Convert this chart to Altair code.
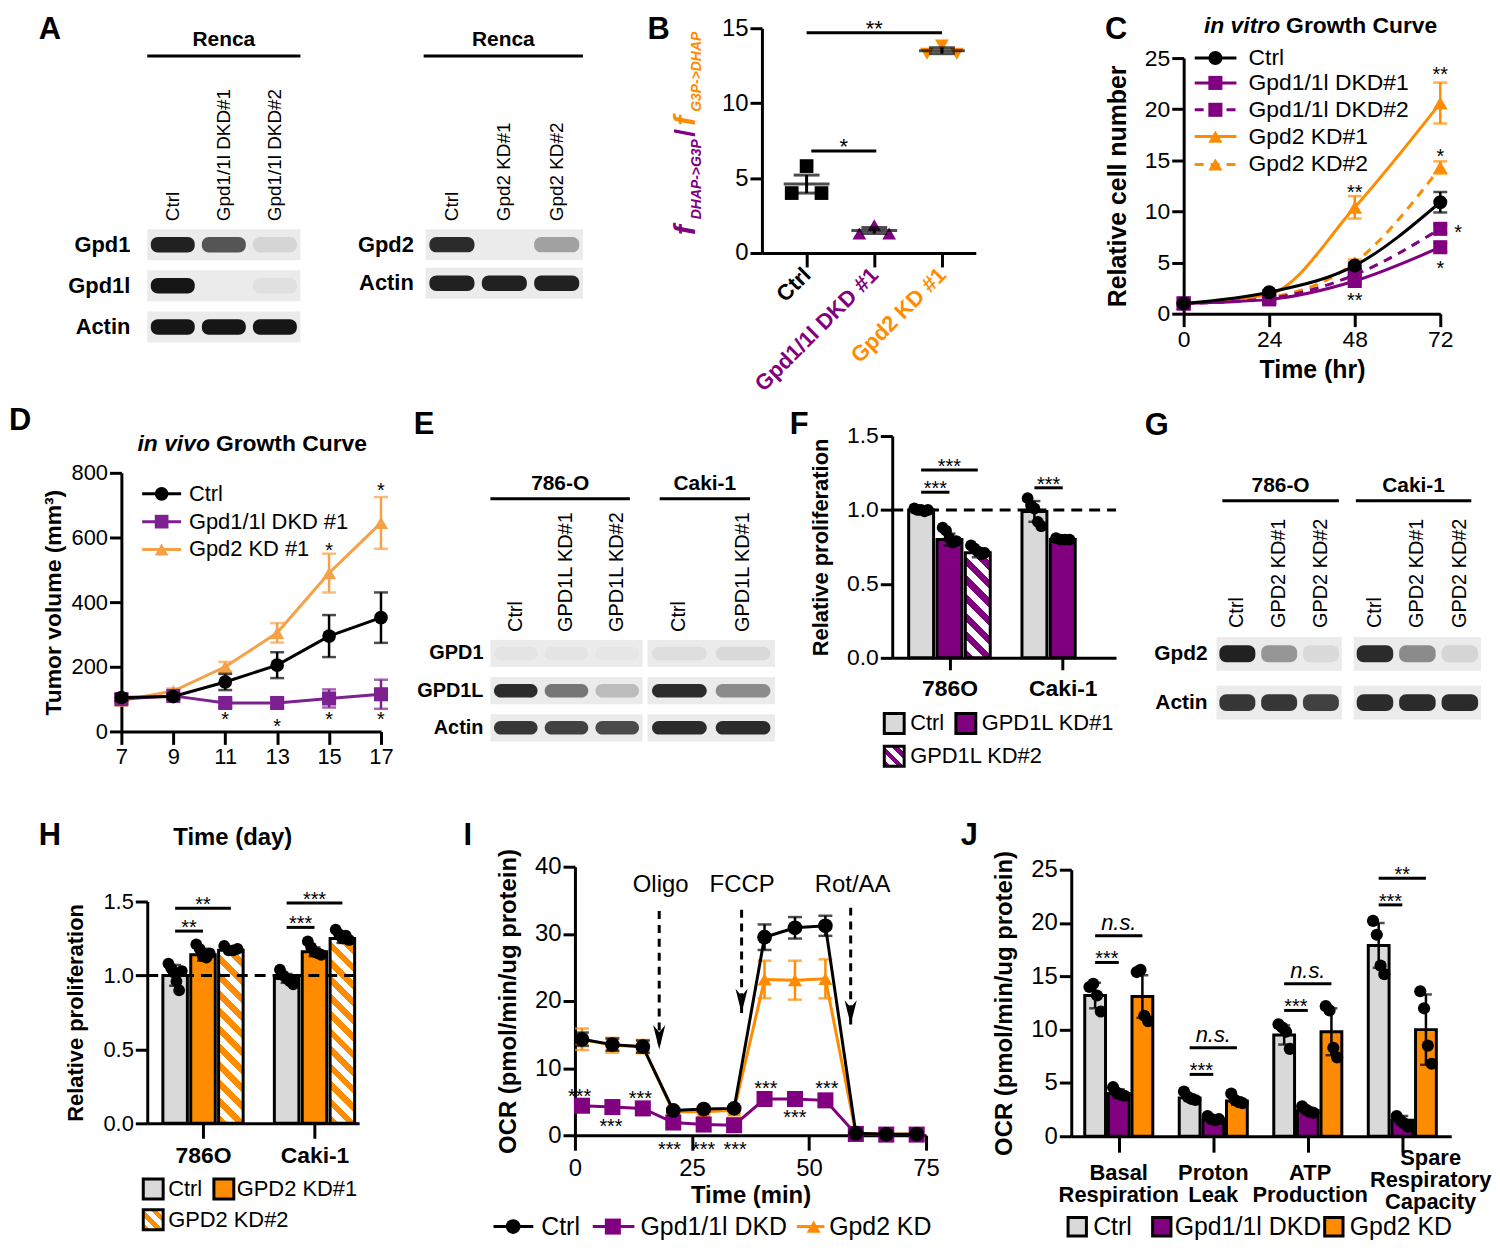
import altair as alt
import numpy as np
import pandas as pd

FONT = "Liberation Sans"
BLK = "#000000"
PUR = "#800080"
ORG = "#FF8C00"
GRY = "#d9d9d9"
PUR_D = "#7d2090"
ORG_D = "#f6a047"
BLOT_BG = "#ebebeb"
BAND = "#161616"
ONE = pd.DataFrame({"k": [0]})

# ============================ DATA ============================
# A: Renca western blots (relative band intensity 0..1)
A1_lanes = ["Ctrl", "Gpd1/1l DKD#1", "Gpd1/1l DKD#2"]
A1_rows = ["Gpd1", "Gpd1l", "Actin"]
A1_gpd1 = [0.95, 0.70, 0.10]
A1_gpd1l = [1.00, 0.00, 0.05]
A1_actin = [1.00, 1.00, 1.00]
A2_lanes = ["Ctrl", "Gpd2 KD#1", "Gpd2 KD#2"]
A2_rows = ["Gpd2", "Actin"]
A2_gpd2 = [0.90, 0.00, 0.35]
A2_actin = [0.95, 0.95, 0.95]

# B
B_groups = ["Ctrl", "Gpd1/1l DKD #1", "Gpd2 KD #1"]
B_ctrl = [5.8, 4.0, 4.0]
B_dkd = [1.85, 1.3, 1.3]
B_gpd2 = [13.85, 13.3, 13.3]
B_mean = [4.6, 1.5, 13.5]
B_sem = [0.6, 0.2, 0.2]

# C: in vitro growth curve
C_time = [0, 24, 48, 72]
C_labels = ["Ctrl", "Gpd1/1l DKD#1", "Gpd1/1l DKD#2", "Gpd2 KD#1", "Gpd2 KD#2"]
C_ctrl = [1.0, 2.1, 4.7, 10.9]
C_ctrl_err = [0.1, 0.2, 0.3, 1.0]
C_dkd1 = [1.0, 1.4, 3.2, 6.5]
C_dkd1_err = [0.1, 0.15, 0.3, 0.4]
C_dkd2 = [1.0, 1.5, 3.8, 8.3]
C_dkd2_err = [0.1, 0.15, 0.3, 0.4]
C_g21 = [1.0, 1.9, 10.4, 20.6]
C_g21_err = [0.1, 0.2, 1.1, 2.0]
C_g22 = [1.0, 1.6, 5.0, 14.3]
C_g22_err = [0.1, 0.15, 0.3, 0.6]
C_star_x = [72, 72, 48, 48, 77.0, 72]
C_star_y = [23.8, 15.8, 12.3, 1.7, 8.4, 4.9]
C_star_t = ["**", "*", "**", "**", "*", "*"]

# D: in vivo growth curve
D_day = [7, 9, 11, 13, 15, 17]
D_labels = ["Ctrl", "Gpd1/1l DKD #1", "Gpd2 KD #1"]
D_ctrl = [105, 108, 153, 205, 295, 352]
D_ctrl_err = [10, 8, 25, 40, 65, 78]
D_dkd = [100, 110, 88, 88, 102, 115]
D_dkd_err = [8, 8, 10, 15, 28, 45]
D_gpd2 = [95, 125, 200, 305, 490, 645]
D_gpd2_err = [8, 8, 15, 30, 60, 80]
D_star_x = [11, 13, 15, 17, 15, 17]
D_star_y = [52, 30, 50, 50, 575, 760]

# E: 786-O / Caki-1 blots
E1_lanes = ["Ctrl", "GPD1L KD#1", "GPD1L KD#2"]
E_rows = ["GPD1", "GPD1L", "Actin"]
E1_gpd1 = [0.03, 0.03, 0.02]
E1_gpd1l = [0.90, 0.55, 0.22]
E1_actin = [0.85, 0.80, 0.75]
E2_lanes = ["Ctrl", "GPD1L KD#1"]
E2_gpd1 = [0.06, 0.08]
E2_gpd1l = [0.90, 0.45]
E2_actin = [0.90, 0.90]

# F: relative proliferation, GPD1L KD
F_lines = ["786O", "Caki-1"]
F_conds = ["Ctrl", "GPD1L KD#1", "GPD1L KD#2"]
F_786O_ctrl = [1.01, 1.00, 1.00, 0.99, 1.00]
F_786O_kd1 = [0.88, 0.86, 0.81, 0.78, 0.79]
F_786O_kd2 = [0.76, 0.74, 0.72, 0.70, 0.71]
F_caki_ctrl = [1.08, 1.03, 1.01, 0.92, 0.89]
F_caki_kd1 = [0.81, 0.80, 0.80, 0.80]
F_mean = [1.00, 0.80, 0.71, 0.99, 0.80]
F_sd = [0.01, 0.04, 0.03, 0.07, 0.01]
F_sig_a = [0, 0, 4]
F_sig_b = [1, 2, 5]
F_sig_y = [1.12, 1.27, 1.15]

# G: GPD2 blots
G_rows = ["Gpd2", "Actin"]
G1_lanes = ["Ctrl", "GPD2 KD#1", "GPD2 KD#2"]
G1_gpd2 = [0.95, 0.40, 0.08]
G1_actin = [0.85, 0.85, 0.80]
G2_lanes = ["Ctrl", "GPD2 KD#1", "GPD2 KD#2"]
G2_gpd2 = [0.90, 0.45, 0.10]
G2_actin = [0.90, 0.90, 0.90]

# H: relative proliferation, GPD2 KD
H_lines = ["786O", "Caki-1"]
H_conds = ["Ctrl", "GPD2 KD#1", "GPD2 KD#2"]
H_786O_ctrl = [1.08, 1.05, 1.02, 0.96, 0.90, 1.03]
H_786O_kd1 = [1.21, 1.18, 1.13, 1.12, 1.15]
H_786O_kd2 = [1.20, 1.17, 1.17, 1.18]
H_caki_ctrl = [1.04, 1.00, 0.98, 0.96, 0.94]
H_caki_kd1 = [1.23, 1.19, 1.16, 1.15, 1.14]
H_caki_kd2 = [1.31, 1.28, 1.25, 1.27, 1.24]
H_mean = [1.00, 1.14, 1.17, 0.98, 1.16, 1.25]
H_sd = [0.07, 0.04, 0.02, 0.03, 0.03, 0.03]
H_sig_a = [0, 0, 4, 4]
H_sig_b = [1, 2, 5, 6]
H_sig_y = [1.30, 1.455, 1.325, 1.49]
H_sig_t = ["**", "**", "***", "***"]

# I: Seahorse OCR trace
I_time = [1.5, 8, 14.5, 21, 27.5, 34, 40.5, 47, 53.5, 60, 66.5, 73]
I_labels = ["Ctrl", "Gpd1/1l DKD", "Gpd2 KD"]
I_ctrl = [14.3, 13.5, 13.2, 3.7, 3.9, 4.0, 29.5, 30.9, 31.2, 0.3, 0.15, 0.15]
I_ctrl_err = [1.0, 0.9, 0.9, 0.3, 0.3, 0.3, 1.9, 1.6, 1.5, 0.1, 0.1, 0.1]
I_dkd = [4.4, 4.2, 4.0, 1.9, 1.6, 1.5, 5.4, 5.4, 5.2, 0.2, 0.1, 0.1]
I_dkd_err = [0.3, 0.3, 0.3, 0.2, 0.2, 0.2, 0.3, 0.3, 0.3, 0.1, 0.1, 0.1]
I_gpd2 = [14.3, 13.4, 13.2, 3.5, 3.5, 3.7, 23.2, 23.1, 23.3, 0.3, 0.2, 0.2]
I_gpd2_err = [1.6, 1.1, 1.0, 0.4, 0.4, 0.4, 2.8, 2.9, 2.9, 0.1, 0.1, 0.1]
I_drug = ["Oligo", "FCCP", "Rot/AA"]
I_arrow_x = [18.0, 35.6, 58.9]
I_arrow_top = [33.4, 33.6, 33.9]
I_arrow_tip = [12.8, 18.2, 16.5]
I_drug_x = [18.3, 35.7, 59.3]
I_star_x = [1.0, 7.7, 14.0, 20.2, 27.5, 34.2, 40.8, 47.0, 53.8]
I_star_y = [6.4, 2.0, 6.1, -1.5, -1.5, -1.5, 7.7, 3.3, 7.7]

# J: OCR parameters
J_params = ["Basal Respiration", "Proton Leak", "ATP Production", "Spare Respiratory Capacity"]
J_conds = ["Ctrl", "Gpd1/1l DKD", "Gpd2 KD"]
J_mean = [13.2, 4.0, 13.1, 3.6, 1.6, 3.3, 9.5, 2.4, 9.8, 17.9, 1.5, 10.0]
J_sd = [1.2, 0.4, 2.0, 0.3, 0.15, 0.35, 0.9, 0.25, 2.2, 2.1, 0.4, 3.3]
J_pts = [
    [14.0, 14.3, 13.2, 11.7], [4.6, 4.1, 3.9, 3.8], [15.4, 15.6, 11.3, 10.8],
    [4.2, 3.7, 3.5, 3.4], [1.9, 1.6, 1.5, 1.6], [4.0, 3.4, 3.2, 3.1],
    [10.5, 10.2, 9.8, 8.2], [2.8, 2.5, 2.3, 2.2], [12.2, 11.8, 8.3, 7.4],
    [20.2, 18.9, 16.0, 15.2], [1.9, 1.5, 1.2, 0.9], [13.6, 12.0, 8.5, 6.8],
]
J_sig_a = [0, 0, 4, 4, 8, 8, 12, 12]
J_sig_b = [1, 2, 5, 6, 9, 10, 13, 14]
J_sig_y = [16.3, 18.8, 5.8, 8.3, 11.8, 14.3, 21.7, 24.2]
J_sig_t = ["***", "n.s.", "***", "n.s.", "***", "n.s.", "***", "**"]

# ============================ HELPERS ============================
LET_DY = 3    # keeps panel letters inside their frames


def G(X, Y, W, H, frame, c):
    # plot origin/size (page px), invisible layout frame, and per-row vertical fine-tuning c
    return dict(X=X, Y=Y, W=W, H=H, frame=frame, c=c)


def pv(g, px, py):
    return alt.value(px - g["X"]), alt.value(py - g["Y"])


def frame_layer(g):
    L, T, R, B = g["frame"]
    return alt.Chart(ONE).mark_rect(opacity=0).encode(
        x=alt.value(L - g["X"]), x2=alt.value(R - g["X"]),
        y=alt.value(T + g["c"] - g["Y"]), y2=alt.value(B + g["c"] - g["Y"]))


def ptext(g, text, px, py, size=22, weight="normal", style="normal", align="center",
          baseline="middle", color=BLK, angle=0):
    x, y = pv(g, px, py)
    return alt.Chart(ONE).mark_text(text=text, fontSize=size, fontWeight=weight, fontStyle=style,
                                    align=align, baseline=baseline, color=color, angle=angle,
                                    font=FONT).encode(x=x, y=y)


def letter(g, t, px, py):
    return ptext(g, t, px, py + g["c"] + LET_DY, size=31, weight="bold", align="left", baseline="top")


def hatch(color, w, h, period=12.5):
    k = h / w
    s = (1 + k) / (1 + k * k)
    n = max(1, int(round((w + h) / (np.sqrt(2) * period))))
    stops = []
    for i in range(n):
        a, b, c = i / n, (i + 0.5) / n, (i + 1) / n
        stops += [alt.GradientStop(offset=float(a), color=color),
                  alt.GradientStop(offset=float(b), color=color),
                  alt.GradientStop(offset=float(b), color="#ffffff"),
                  alt.GradientStop(offset=float(c), color="#ffffff")]
    return alt.LinearGradient(gradient="linear", stops=stops, x1=0.0, y1=1.0,
                              x2=float(s), y2=float(1 - s * k))


class Ax:
    """Shared scale + axis for every layer of one panel."""
    def __init__(self, SX, SY, AX, AY):
        self.SX, self.SY, self.AX, self.AY = SX, SY, AX, AY

    def x(self, f):
        return alt.X(f, scale=self.SX, axis=self.AX)

    def y(self, f):
        return alt.Y(f, scale=self.SY, axis=self.AY)

    def xd(self, v):
        return alt.XDatum(v, scale=self.SX, axis=self.AX)

    def yd(self, v):
        return alt.YDatum(v, scale=self.SY, axis=self.AY)


def blot_panel(g, lanes, rows, inten, header, span, line_y, text_y, row_dx=None, let=None,
               gap=0.35, bh=0.25, lane_dx=8, lane_fs=20, row_fs=21):
    n, m = len(lanes), len(rows)
    cen = [i * (1 + gap) for i in range(m)]
    a = Ax(alt.Scale(domain=[-0.5, n - 0.5], nice=False, zero=False),
           alt.Scale(domain=[-0.5, cen[-1] + 0.5], nice=False, zero=False, reverse=True), None, None)
    bg = pd.DataFrame({"x0": [-0.5] * m, "x1": [n - 0.5] * m,
                       "y0": [c - 0.5 for c in cen], "y1": [c + 0.5 for c in cen]})
    recs = []
    for r, c in enumerate(cen):
        for li in range(n):
            recs.append({"x0": li - 0.43, "x1": li + 0.43, "y0": c - bh, "y1": c + bh,
                         "v": inten[r][li]})
    bands = pd.DataFrame(recs)
    layers = [
        alt.Chart(bg).mark_rect(color=BLOT_BG).encode(x=a.x("x0:Q"), x2="x1:Q", y=a.y("y0:Q"), y2="y1:Q"),
        alt.Chart(bands).mark_rect(color=BAND, cornerRadius=7).encode(
            x=a.x("x0:Q"), x2="x1:Q", y=a.y("y0:Q"), y2="y1:Q",
            opacity=alt.Opacity("v:Q", scale=None)),
        alt.Chart(pd.DataFrame({"x": list(range(n)), "t": lanes})).mark_text(
            angle=270, align="left", baseline="middle", dx=lane_dx, fontSize=lane_fs, font=FONT,
            color=BLK).encode(x=a.x("x:Q"), y=a.yd(-0.5), text="t:N"),
        alt.Chart(ONE).mark_rule(color=BLK, strokeWidth=3).encode(
            x=a.xd(span[0]), x2=alt.X2Datum(span[1]), y=alt.value(line_y - g["Y"])),
        alt.Chart(ONE).mark_text(text=header, fontSize=21, fontWeight="bold", font=FONT, color=BLK,
                                 align="center", baseline="middle").encode(
            x=a.xd((span[0] + span[1]) / 2), y=alt.value(text_y - g["Y"])),
    ]
    if row_dx is not None:
        layers.append(alt.Chart(pd.DataFrame({"y": cen, "t": rows})).mark_text(
            align="right", baseline="middle", dx=row_dx, fontSize=row_fs, fontWeight="bold",
            font=FONT, color=BLK).encode(x=a.xd(-0.5), y=a.y("y:Q"), text="t:N"))
    if let:
        layers.append(letter(g, *let))
    layers.append(frame_layer(g))
    return alt.layer(*layers).properties(width=g["W"], height=g["H"])


def line_layers(a, xs, series):
    L = []
    for s in series:
        y = np.array(s["y"], float)
        e = np.array(s["err"], float)
        d = pd.DataFrame({"x": xs, "y": y, "lo": y - e, "hi": y + e})
        base = alt.Chart(d)
        L.append(base.mark_rule(color=s["color"], strokeWidth=2.5).encode(
            x=a.x("x:Q"), y=a.y("lo:Q"), y2="hi:Q"))
        for f in ("lo", "hi"):
            L.append(base.mark_tick(orient="horizontal", color=s["color"], size=s.get("cap", 14),
                                    thickness=2.5).encode(x=a.x("x:Q"), y=a.y(f + ":Q")))
        lk = dict(color=s["color"], strokeWidth=3, interpolate=s.get("interp", "linear"))
        if s.get("dash"):
            lk["strokeDash"] = s["dash"]
        L.append(base.mark_line(**lk).encode(x=a.x("x:Q"), y=a.y("y:Q")))
        L.append(base.mark_point(shape=s["shape"], filled=True, size=s["size"], color=s["color"],
                                 opacity=1).encode(x=a.x("x:Q"), y=a.y("y:Q")))
    return L


def data_legend(a, x0, x1, xm, xt, y, label, color, shape, size, dash=None, fs=22):
    rk = dict(color=color, strokeWidth=3)
    if dash:
        rk["strokeDash"] = dash
    return [
        alt.Chart(ONE).mark_rule(**rk).encode(x=a.xd(x0), x2=alt.X2Datum(x1), y=a.yd(y)),
        alt.Chart(ONE).mark_point(shape=shape, filled=True, size=size, color=color, opacity=1).encode(
            x=a.xd(xm), y=a.yd(y)),
        alt.Chart(ONE).mark_text(text=label, align="left", baseline="middle", fontSize=fs, font=FONT,
                                 color=BLK).encode(x=a.xd(xt), y=a.yd(y)),
    ]


def star_layer(a, xs, ys, texts, fs=20, dy=11):
    d = pd.DataFrame({"x": xs, "y": ys, "t": texts})
    return alt.Chart(d).mark_text(fontSize=fs, font=FONT, color=BLK, baseline="alphabetic",
                                  align="center", dy=dy).encode(x=a.x("x:Q"), y=a.y("y:Q"), text="t:N")


def sig_layers(a, xa, xb, ys, texts, fs=20):
    L = []
    d = pd.DataFrame({"x0": xa, "x1": xb, "y": ys, "t": texts,
                      "xm": [(p + q) / 2 for p, q in zip(xa, xb)]})
    L.append(alt.Chart(d).mark_rule(color=BLK, strokeWidth=3).encode(
        x=a.x("x0:Q"), x2="x1:Q", y=a.y("y:Q")))
    ds = d[d["t"] != "n.s."]
    dn = d[d["t"] == "n.s."]
    if len(ds):
        L.append(alt.Chart(ds).mark_text(fontSize=fs, font=FONT, color=BLK, baseline="alphabetic",
                                         dy=3).encode(x=a.x("xm:Q"), y=a.y("y:Q"), text="t:N"))
    if len(dn):
        L.append(alt.Chart(dn).mark_text(fontSize=22, font=FONT, color=BLK, baseline="alphabetic",
                                         fontStyle="italic", dy=-6).encode(
            x=a.x("xm:Q"), y=a.y("y:Q"), text="t:N"))
    return L


def bar_layers(a, slots, means, sds, fills, pts, px_x, px_y, dot=140, cap=12, period=12.5, half=0.44):
    L = []
    solid = [i for i, c in enumerate(fills) if not c.startswith("hatch")]
    df = pd.DataFrame({"x0": [slots[i] - half for i in solid], "x1": [slots[i] + half for i in solid],
                       "y": [means[i] for i in solid], "y0": [0.0] * len(solid),
                       "fill": [fills[i] for i in solid]})
    L.append(alt.Chart(df).mark_rect(stroke=BLK, strokeWidth=3).encode(
        x=a.x("x0:Q"), x2="x1:Q", y=a.y("y:Q"), y2="y0:Q", fill=alt.Fill("fill:N", scale=None)))
    for i, c in enumerate(fills):
        if c.startswith("hatch"):
            col = c.split(":")[1]
            d = pd.DataFrame({"x0": [slots[i] - half], "x1": [slots[i] + half], "y": [means[i]],
                              "y0": [0.0]})
            L.append(alt.Chart(d).mark_rect(fill=hatch(col, 2 * half * px_x, means[i] * px_y, period),
                                            stroke=BLK, strokeWidth=3).encode(
                x=a.x("x0:Q"), x2="x1:Q", y=a.y("y:Q"), y2="y0:Q"))
    e = pd.DataFrame({"x": slots, "lo": [m - s for m, s in zip(means, sds)],
                      "hi": [m + s for m, s in zip(means, sds)]})
    L.append(alt.Chart(e).mark_rule(color=BLK, strokeWidth=2.5).encode(x=a.x("x:Q"), y=a.y("lo:Q"),
                                                                        y2="hi:Q"))
    for f in ("lo", "hi"):
        L.append(alt.Chart(e).mark_tick(orient="horizontal", size=cap, thickness=2.5, color=BLK).encode(
            x=a.x("x:Q"), y=a.y(f + ":Q")))
    recs = []
    for s, vals in zip(slots, pts):
        n = len(vals)
        offs = np.linspace(-0.24, 0.24, n) if n > 1 else [0.0]
        for o, v in zip(offs, vals):
            recs.append({"x": s + o, "y": v})
    L.append(alt.Chart(pd.DataFrame(recs)).mark_circle(size=dot, color=BLK, opacity=1).encode(
        x=a.x("x:Q"), y=a.y("y:Q")))
    return L


def sq_legend(g, px, py, fill, label, tx, fs=22, size=400):
    x, y = pv(g, px, py)
    return [alt.Chart(ONE).mark_point(shape="square", filled=True, fill=fill, stroke=BLK,
                                      strokeWidth=3, size=size, opacity=1).encode(x=x, y=y),
            ptext(g, label, tx, py, size=fs, align="left")]


# ============================ PANELS ============================
R1, R2, R3, R4 = 4, 396, 812, 1229   # row frame edges (page px)
C1, C2, C3 = 8, 6, 4                 # per-row vertical fine-tuning

# ---- A ----
gA1 = G(147, 230, 154, 114, (8, R1, 340, R2), C1)
pA1 = blot_panel(gA1, A1_lanes, A1_rows, [A1_gpd1, A1_gpd1l, A1_actin], "Renca", (-0.5, 2.5), 56, 40,
                 row_dx=-17, let=("A", 38, R1), gap=0.33, lane_fs=19, row_fs=22)
gA2 = G(427, 230, 158, 70, (340, R1, 640, R2), C1)
pA2 = blot_panel(gA2, A2_lanes, A2_rows, [A2_gpd2, A2_actin], "Renca", (-0.54, 2.5), 56, 40,
                 row_dx=-12, gap=0.25, lane_fs=19, row_fs=22)

# ---- B ----
gB = G(765, 28, 215, 226, (640, R1, 1100, R2), C1)
aB = Ax(alt.Scale(domain=[-0.66, 2.5], nice=False, zero=False),
        alt.Scale(domain=[0, 15], nice=False, zero=False),
        alt.Axis(values=[0, 1, 2], title=None, tickSize=14, labelAngle=315, labelAlign="right",
                 labelBaseline="middle", labelFontWeight="bold", labelFontSize=22, labelPadding=4,
                 labelExpr="['Ctrl','Gpd1/1l DKD #1','Gpd2 KD #1'][datum.value]",
                 labelColor={"expr": "datum.value == 0 ? '#000000' : (datum.value == 1 ? '#800080' : '#FF8C00')"}),
        alt.Axis(values=[0, 5, 10, 15], title=None, labelFontSize=24, tickSize=12))
B_off = [0.0, -0.22, 0.22]
B_layers = []
for gi, (vals, col, shp) in enumerate(zip([B_ctrl, B_dkd, B_gpd2], [BLK, PUR, ORG],
                                          ["square", "triangle-up", "triangle-down"])):
    d = pd.DataFrame({"x": [gi + o for o in B_off], "y": vals})
    B_layers.append(alt.Chart(d).mark_point(shape=shp, filled=True, size=190, color=col, opacity=1).encode(
        x=aB.x("x:Q"), y=aB.y("y:Q")))
dBm = pd.DataFrame({"x": [0, 1, 2], "m": B_mean,
                    "lo": [m - s for m, s in zip(B_mean, B_sem)], "hi": [m + s for m, s in zip(B_mean, B_sem)]})
B_layers.append(alt.Chart(dBm).mark_rule(color=BLK, strokeWidth=3).encode(
    x=aB.x("x:Q"), y=aB.y("lo:Q"), y2="hi:Q"))
for f, sz in (("m", 46), ("lo", 26), ("hi", 26)):
    B_layers.append(alt.Chart(dBm).mark_tick(orient="horizontal", size=sz, thickness=3, color=BLK).encode(
        x=aB.x("x:Q"), y=aB.y(f + ":Q")))
B_layers += sig_layers(aB, [0, 0.07], [2, 1.03], [14.7, 6.8], ["**", "*"], fs=22)
B_layers += [
    ptext(gB, "f", 689, 236, size=30, weight="bold", style="italic", align="left", color=PUR, angle=270),
    ptext(gB, "DHAP->G3P", 700, 220, size=14, weight="bold", style="italic", align="left", color=PUR, angle=270),
    ptext(gB, "/", 689, 137, size=28, weight="bold", align="left", color=PUR, angle=270),
    ptext(gB, "f", 689, 126, size=30, weight="bold", style="italic", align="left", color=ORG, angle=270),
    ptext(gB, "G3P->DHAP", 700, 112, size=14, weight="bold", style="italic", align="left", color=ORG, angle=270),
    letter(gB, "B", 650, R1), frame_layer(gB)]
pB = alt.layer(*B_layers).properties(width=gB["W"], height=gB["H"])

# ---- C ----
gC = G(1189, 58, 258, 257, (1100, R1, 1497, R2), C1)
aC = Ax(alt.Scale(domain=[0, 72], nice=False, zero=False),
        alt.Scale(domain=[0, 25], nice=False, zero=False),
        alt.Axis(values=C_time, title="Time (hr)", labelFontSize=23, titleFontSize=25, tickSize=13,
                 labelPadding=2, titlePadding=6),
        alt.Axis(values=[0, 5, 10, 15, 20, 25], title="Relative cell number", labelFontSize=23,
                 titleFontSize=25, tickSize=12, titlePadding=14))
C_layers = line_layers(aC, C_time, [
    dict(y=C_g21, err=C_g21_err, color=ORG, shape="triangle-up", size=220, interp="monotone"),
    dict(y=C_g22, err=C_g22_err, color=ORG, shape="triangle-up", size=220, dash=[9, 7], interp="monotone"),
    dict(y=C_dkd2, err=C_dkd2_err, color=PUR, shape="square", size=200, dash=[9, 7], interp="monotone"),
    dict(y=C_dkd1, err=C_dkd1_err, color=PUR, shape="square", size=200, interp="monotone"),
    dict(y=C_ctrl, err=C_ctrl_err, color=BLK, shape="circle", size=200, interp="monotone"),
])
C_leg_y = [25.0, 22.57, 19.94, 17.32, 14.59]
for lab, yy, col, shp, dash in zip(C_labels, C_leg_y, [BLK, PUR, PUR, ORG, ORG],
                                   ["circle", "square", "square", "triangle-up", "triangle-up"],
                                   [None, None, [9, 7], None, [9, 7]]):
    C_layers += data_legend(aC, 3.1, 14.8, 8.9, 18.2, yy, lab, col, shp, 200, dash, fs=23)
C_layers.append(star_layer(aC, C_star_x, C_star_y, C_star_t))
C_layers += [ptext(gC, "in vitro", 1286, 26, size=23, weight="bold", style="italic", align="right"),
             ptext(gC, "Growth Curve", 1292, 26, size=23, weight="bold", align="left"),
             letter(gC, "C", 1110, R1), frame_layer(gC)]
pC = alt.layer(*C_layers).properties(width=gC["W"], height=gC["H"])

# ---- D ----
gD = G(121, 472, 261, 260, (8, R2, 410, R3), C2)
aD = Ax(alt.Scale(domain=[7, 17], nice=False, zero=False),
        alt.Scale(domain=[0, 800], nice=False, zero=False),
        alt.Axis(values=D_day, title=None, labelFontSize=22, tickSize=13, labelPadding=2),
        alt.Axis(values=[0, 200, 400, 600, 800], title="Tumor volume (mm³)", labelFontSize=22,
                 titleFontSize=23, tickSize=12, titlePadding=6))
D_layers = line_layers(aD, D_day, [
    dict(y=D_gpd2, err=D_gpd2_err, color=ORG_D, shape="triangle-up", size=200),
    dict(y=D_dkd, err=D_dkd_err, color=PUR_D, shape="square", size=200),
    dict(y=D_ctrl, err=D_ctrl_err, color=BLK, shape="circle", size=190),
])
for lab, yy, col, shp in zip(D_labels, [735, 649, 563], [BLK, PUR_D, ORG_D],
                             ["circle", "square", "triangle-up"]):
    D_layers += data_legend(aD, 7.8, 9.3, 8.55, 9.6, yy, lab, col, shp, 190, None, fs=22)
D_layers.append(star_layer(aD, D_star_x, D_star_y, ["*"] * len(D_star_x)))
D_layers += [ptext(gD, "in vivo", 210, 443, size=23, weight="bold", style="italic", align="right"),
             ptext(gD, "Growth Curve", 216, 443, size=23, weight="bold", align="left"),
             letter(gD, "D", 8, R2), frame_layer(gD)]
pD = alt.layer(*D_layers).properties(width=gD["W"], height=gD["H"])

# ---- E ----
gE1 = G(492, 640, 153, 102, (410, R2, 647, R3), C2)
pE1 = blot_panel(gE1, E1_lanes, E_rows, [E1_gpd1, E1_gpd1l, E1_actin], "786-O", (-0.5, 2.25), 498, 483,
                 row_dx=-7, let=("E", 415, R2 + 4), gap=0.37, row_fs=20)
gE2 = G(650, 640, 128, 102, (647, R2, 785, R3), C2)
pE2 = blot_panel(gE2, E2_lanes, E_rows, [E2_gpd1, E2_gpd1l, E2_actin], "Caki-1", (-0.31, 1.11), 498, 483,
                 gap=0.37)

# ---- F ----
gF = G(896, 435, 225, 223, (785, R2, 1140, R3), C2)
aF = Ax(alt.Scale(domain=[-1.02, 6.88], nice=False, zero=False),
        alt.Scale(domain=[0, 1.5], nice=False, zero=False),
        alt.Axis(values=[1, 5], title=None, labelExpr="datum.value == 1 ? '786O' : 'Caki-1'",
                 labelFontWeight="bold", labelFontSize=23, tickSize=12, labelPadding=8),
        alt.Axis(values=[0, 0.5, 1.0, 1.5], format=".1f", title="Relative proliferation",
                 labelFontSize=23, titleFontSize=22, tickSize=12, titlePadding=14))
F_slots = [0, 1, 2, 4, 5]
F_fill = [GRY, PUR, "hatch:" + PUR, GRY, PUR]
F_layers = bar_layers(aF, F_slots, F_mean, F_sd, F_fill,
                      [F_786O_ctrl, F_786O_kd1, F_786O_kd2, F_caki_ctrl, F_caki_kd1],
                      225 / 7.9, 223 / 1.5, dot=140)
F_layers.append(alt.Chart(ONE).mark_rule(color=BLK, strokeWidth=3, strokeDash=[11, 7]).encode(
    x=aF.xd(-1.02), x2=alt.X2Datum(6.88), y=aF.yd(1.0)))
F_layers += sig_layers(aF, F_sig_a, F_sig_b, F_sig_y, ["***"] * 3)
F_layers += sq_legend(gF, 898, 724, GRY, F_conds[0], 914)
F_layers += sq_legend(gF, 970, 724, PUR, F_conds[1], 986)
F_layers += sq_legend(gF, 898, 757, hatch(PUR, 20, 20, 10), F_conds[2], 914)
F_layers += [letter(gF, "F", 793, R2 + 4), frame_layer(gF)]
pF = alt.layer(*F_layers).properties(width=gF["W"], height=gF["H"])

# ---- G ----
gG1 = G(1222, 637, 126, 83, (1140, R2, 1354, R3), C2)
pG1 = blot_panel(gG1, G1_lanes, G_rows, [G1_gpd2, G1_actin], "786-O", (-0.36, 2.43), 500, 485,
                 row_dx=-9, let=("G", 1150, R2 + 5), gap=0.45, lane_dx=9)
gG2 = G(1360, 637, 128, 83, (1354, R2, 1497, R3), C2)
pG2 = blot_panel(gG2, G2_lanes, G_rows, [G2_gpd2, G2_actin], "Caki-1", (-0.45, 2.27), 500, 485,
                 gap=0.45, lane_dx=9)

# ---- H ----
gH = G(147, 900, 213, 223, (8, R3, 460, R4), C3)
aH = Ax(alt.Scale(domain=[-1.0, 6.6], nice=False, zero=False),
        alt.Scale(domain=[0, 1.5], nice=False, zero=False),
        alt.Axis(values=[1, 5], title=None, labelExpr="datum.value == 1 ? '786O' : 'Caki-1'",
                 labelFontWeight="bold", labelFontSize=23, tickSize=15, labelPadding=6),
        alt.Axis(values=[0, 0.5, 1.0, 1.5], format=".1f", title="Relative proliferation",
                 labelFontSize=22, titleFontSize=22, tickSize=12, titlePadding=16))
H_slots = [0, 1, 2, 4, 5, 6]
H_fill = [GRY, ORG, "hatch:" + ORG, GRY, ORG, "hatch:" + ORG]
H_layers = bar_layers(aH, H_slots, H_mean, H_sd, H_fill,
                      [H_786O_ctrl, H_786O_kd1, H_786O_kd2, H_caki_ctrl, H_caki_kd1, H_caki_kd2],
                      213 / 7.6, 223 / 1.5, dot=140)
H_layers.append(alt.Chart(ONE).mark_rule(color=BLK, strokeWidth=3, strokeDash=[11, 7]).encode(
    x=aH.xd(-1.0), x2=alt.X2Datum(6.6), y=aH.yd(1.0)))
H_layers += sig_layers(aH, H_sig_a, H_sig_b, H_sig_y, H_sig_t)
H_layers += sq_legend(gH, 153, 1189, GRY, H_conds[0], 168)
H_layers += sq_legend(gH, 224, 1189, ORG, H_conds[1], 237)
H_layers += sq_legend(gH, 153, 1220, hatch(ORG, 20, 20, 10), H_conds[2], 168)
H_layers += [ptext(gH, "Time (day)", 233, 836, size=24, weight="bold"),
             letter(gH, "H", 38, R3), frame_layer(gH)]
pH = alt.layer(*H_layers).properties(width=gH["W"], height=gH["H"])

# ---- I ----
gI = G(577, 865, 353, 270, (460, R3, 960, R4), C3)
aI = Ax(alt.Scale(domain=[0, 75], nice=False, zero=False),
        alt.Scale(domain=[0, 40], nice=False, zero=False),
        alt.Axis(values=[0, 25, 50, 75], title="Time (min)", labelFontSize=24, titleFontSize=24,
                 tickSize=15, labelPadding=6, titlePadding=4),
        alt.Axis(values=[0, 10, 20, 30, 40], title="OCR (pmol/min/ug protein)", labelFontSize=24,
                 titleFontSize=24, tickSize=12, titlePadding=14))
I_layers = line_layers(aI, I_time, [
    dict(y=I_gpd2, err=I_gpd2_err, color=ORG, shape="triangle-up", size=200),
    dict(y=I_dkd, err=I_dkd_err, color=PUR, shape="square", size=260),
    dict(y=I_ctrl, err=I_ctrl_err, color=BLK, shape="circle", size=220),
])
dIa = pd.DataFrame({"x": I_arrow_x, "top": I_arrow_top, "tip": I_arrow_tip,
                    "head": [t + 1.8 for t in I_arrow_tip]})
I_layers.append(alt.Chart(dIa).mark_rule(color=BLK, strokeWidth=3, strokeDash=[8, 6]).encode(
    x=aI.x("x:Q"), y=aI.y("top:Q"), y2="tip:Q"))
I_layers.append(alt.Chart(dIa).mark_point(shape="M-0.5,-1L0,1L0.5,-1L0,-0.4Z", filled=True, size=600,
                                          color=BLK, opacity=1).encode(x=aI.x("x:Q"), y=aI.y("head:Q")))
I_layers.append(alt.Chart(pd.DataFrame({"x": I_drug_x, "t": I_drug})).mark_text(
    fontSize=24, font=FONT, color=BLK, baseline="middle").encode(x=aI.x("x:Q"), y=aI.yd(37.3), text="t:N"))
I_layers.append(star_layer(aI, I_star_x, I_star_y, ["***"] * len(I_star_x)))
for lab, (x0, x1, xm, xt), col, shp, sz in zip(
        I_labels, [(-17.4, -8.9, -13.2, -7.2), (3.8, 12.7, 8.1, 14.0), (47.4, 53.3, 51.0, 54.3)],
        [BLK, PUR, ORG], ["circle", "square", "triangle-up"], [220, 260, 200]):
    I_layers += data_legend(aI, x0, x1, xm, xt, -13.6, lab, col, shp, sz, None, fs=25)
I_layers += [letter(gI, "I", 465, R3), frame_layer(gI)]
pI = alt.layer(*I_layers).properties(width=gI["W"], height=gI["H"])

# ---- J ----
gJ = G(1076, 868, 382, 268, (960, R3, 1497, R4), C3)
aJ = Ax(alt.Scale(domain=[-1.01, 15.07], nice=False, zero=False),
        alt.Scale(domain=[0, 25], nice=False, zero=False),
        alt.Axis(values=[1, 5, 9, 13], title=None, labels=False, tickSize=16),
        alt.Axis(values=[0, 5, 10, 15, 20, 25], title="OCR (pmol/min/ug protein)", labelFontSize=24,
                 titleFontSize=24, tickSize=12, titlePadding=14))
J_slots = [4 * p + c for p in range(4) for c in range(3)]
J_fill = [GRY, PUR, ORG] * 4
J_layers = bar_layers(aJ, J_slots, J_mean, J_sd, J_fill, J_pts, 382 / 16.08, 268 / 25, dot=150, cap=12)
J_layers += sig_layers(aJ, J_sig_a, J_sig_b, J_sig_y, J_sig_t)
# multi-line category labels under the x axis (one text mark per line)
J_label_shift = [0.0, 0.0, 0.1, 1.2]
lab_recs = []
for p, name in enumerate(J_params):
    words = name.split(" ")
    n = len(words)
    c = 48 - 4 * (n - 2)
    for li, w in enumerate(words):
        lab_recs.append({"x": 4 * p + 1 + J_label_shift[p], "t": w,
                         "dy": c + (li - (n - 1) / 2) * 22})
dJl = pd.DataFrame(lab_recs)
for dyv in sorted(dJl["dy"].unique()):
    J_layers.append(alt.Chart(dJl[dJl["dy"] == dyv]).mark_text(
        fontSize=22, fontWeight="bold", font=FONT, color=BLK, baseline="middle", dy=float(dyv)).encode(
        x=aJ.x("x:Q"), y=aJ.yd(0), text="t:N"))
J_layers += sq_legend(gJ, 1082, 1227, GRY, J_conds[0], 1098, fs=25, size=340)
J_layers += sq_legend(gJ, 1167, 1227, PUR, J_conds[1], 1180, fs=25, size=340)
J_layers += sq_legend(gJ, 1340, 1227, ORG, J_conds[2], 1356, fs=25, size=340)
J_layers += [letter(gJ, "J", 965, R3), frame_layer(gJ)]
pJ = alt.layer(*J_layers).properties(width=gJ["W"], height=gJ["H"])


# ============================ LAYOUT ============================
def spacer():
    return alt.Chart(ONE).mark_rect(opacity=0).encode(
        x=alt.value(0), x2=alt.value(1), y=alt.value(0), y2=alt.value(1)).properties(width=1, height=1)


def cell(p):
    # a 1px spacer above each panel makes the panel's frame (not its plot origin) define its row position
    return alt.vconcat(spacer(), p, spacing=0)


def row(*panels):
    return alt.hconcat(spacer(), *[cell(p) for p in panels], spacing=0)


chart = alt.vconcat(row(pA1, pA2, pB, pC), row(pD, pE1, pE2, pF, pG1, pG2), row(pH, pI, pJ),
                    spacing=0).properties(padding=0).configure(
    font=FONT).configure_view(strokeWidth=0).configure_axis(
    labelFont=FONT, titleFont=FONT, labelColor=BLK, titleColor=BLK, titleFontWeight="bold",
    domainColor=BLK, domainWidth=3, tickColor=BLK, tickWidth=3, grid=False, labelFlush=False,
    labelOverlap=False)

chart.save("out.html", embed_options={"renderer": "svg", "actions": False})
